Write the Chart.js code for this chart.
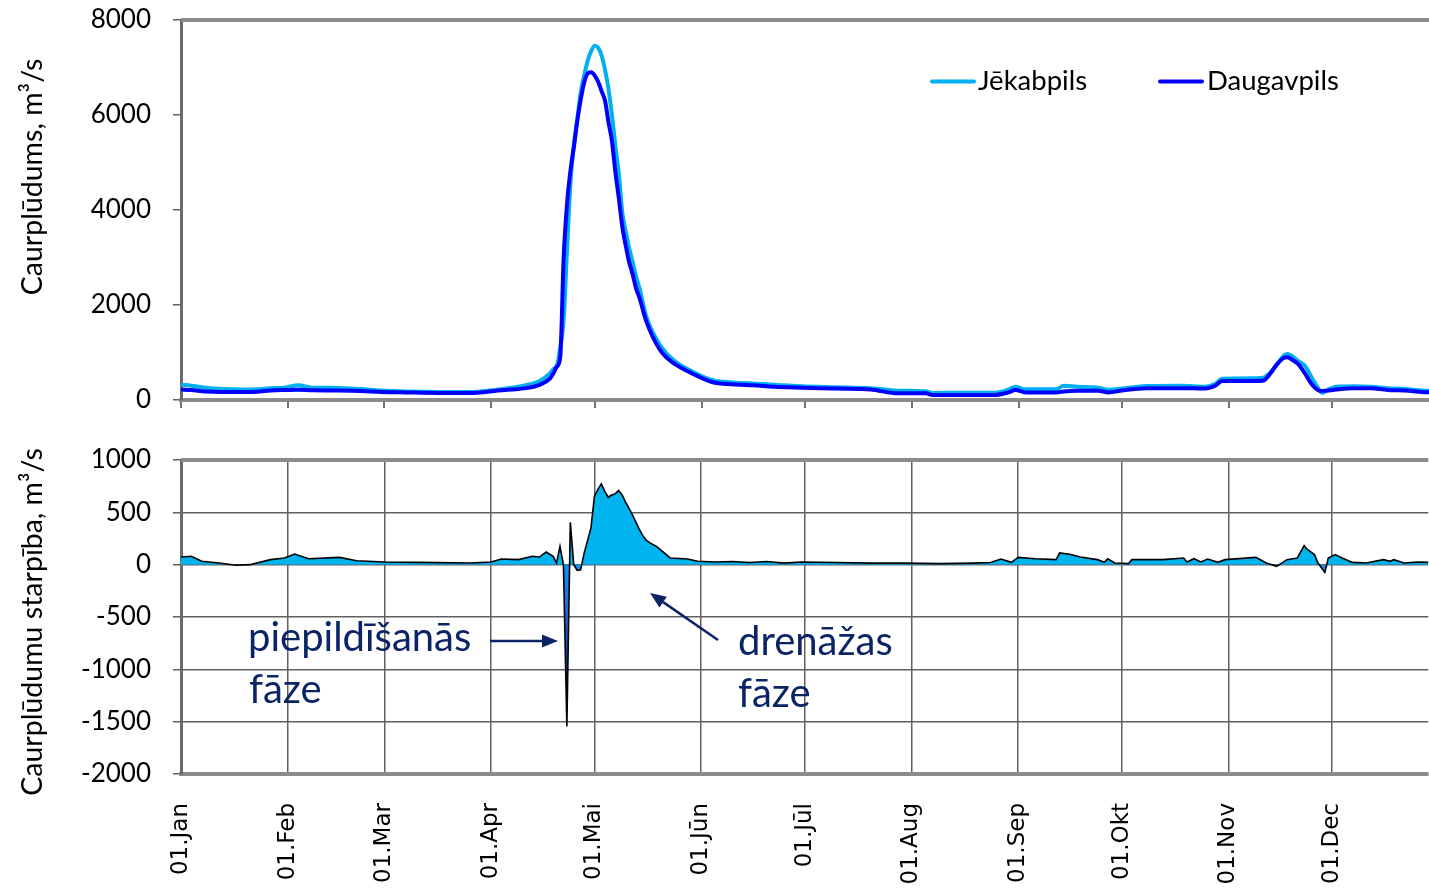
<!DOCTYPE html>
<html>
<head>
<meta charset="utf-8">
<script src="https://cdn.jsdelivr.net/npm/chart.js@4.4.1/dist/chart.umd.min.js"></script>
<style>
    body { margin: 0; background: #fff; width: 1429px; height: 890px; overflow: hidden; position: relative; }
    #flowChart { position: absolute; left: 0; top: 0; }
    #diffChart { position: absolute; left: 0; top: 430px; }
</style>
</head>
<body>
<canvas id="flowChart" width="1429" height="430"></canvas>
<canvas id="diffChart" width="1429" height="460"></canvas>
<script>
// day of year (0 = 1 Jan) for the discharge series
const flowDays = [
    0, 3, 7, 12, 18, 22, 26, 30, 34, 38,
    45, 52, 58, 65, 75, 85, 91, 96, 100, 104,
    107, 108, 109, 110, 111, 112, 113, 114, 115, 116,
    117, 118, 119, 120, 121, 122, 123, 124, 125, 126,
    127, 128, 129, 130, 131, 132, 133, 135, 139, 143,
    148, 154, 160, 166, 172, 180, 190, 200, 208, 216,
    218, 236, 240, 242, 245, 254, 256, 260, 266, 269,
    273, 280, 290, 297, 300, 302, 312, 314, 316, 318,
    320, 321, 322, 324, 326, 328, 330, 331, 333, 335,
    340, 345, 350, 355, 360, 364
];
const jekabpils = [
    320, 300, 260, 230, 220, 225, 250, 260, 310, 260,
    255, 230, 200, 180, 170, 170, 210, 260, 310, 400,
    560, 650, 720, 1100, 1700, 3200, 4600, 5400, 5950, 6500,
    6850, 7150, 7350, 7460, 7420, 7250, 6950, 6550, 6000, 5350,
    4750, 3950, 3550, 3200, 2900, 2600, 2350, 1750, 1150, 830,
    610, 420, 370, 350, 320, 290, 270, 250, 195, 185,
    150, 155, 220, 280, 225, 225, 300, 280, 260, 215,
    240, 295, 300, 280, 340, 450, 460, 470, 580, 760,
    940, 970, 940, 820, 720, 470, 230, 150, 230, 280,
    290, 280, 250, 230, 200, 190
];
const daugavpils = [
    220, 210, 180, 170, 170, 175, 200, 210, 215, 205,
    200, 190, 170, 160, 150, 150, 190, 220, 250, 320,
    450, 560, 700, 900, 3000, 4150, 4850, 5350, 5900, 6350,
    6700, 6880, 6900, 6830, 6700, 6500, 6300, 5850, 5450, 4800,
    4250, 3650, 3250, 2900, 2650, 2350, 2150, 1650, 1050, 770,
    570, 380, 330, 310, 280, 260, 240, 220, 140, 140,
    105, 105, 160, 210, 160, 160, 180, 195, 195, 160,
    200, 245, 250, 240, 300, 400, 400, 410, 560, 760,
    890, 900, 860, 760, 560, 330, 200, 190, 200, 220,
    250, 250, 210, 200, 170, 160
];

// difference series (lower panel)
const diffDays = [
    0, 3, 6, 11, 16, 20, 26, 30, 33, 37,
    46, 51, 59, 69, 84, 90, 93, 98, 102, 104,
    106, 108, 109, 110, 111, 112, 113, 114, 115, 116,
    117, 118, 119, 120, 121, 122, 123, 124, 125, 126,
    127, 128, 129, 130, 131, 132, 133, 134, 135, 136,
    138, 140, 142, 147, 150, 155, 160, 165, 170, 175,
    180, 190, 200, 210, 220, 230, 235, 238, 241, 243,
    248, 254, 255, 258, 261, 266, 268, 269, 271, 275,
    276, 285, 291, 292, 294, 296, 298, 301, 303, 308,
    312, 315, 318, 321, 324, 326, 327, 329, 330, 332,
    333, 335, 337, 340, 344, 349, 351, 352, 355, 359,
    364
];
const flowDiff = [
    73, 80, 32, 16, -6, 0, 48, 64, 102, 57,
    70, 38, 26, 22, 16, 26, 54, 48, 80, 73,
    121, 80, 16, 175, 0, -1545, 404, 0, -54, -50,
    110, 230, 354, 653, 720, 771, 700, 644, 665, 676,
    710, 669, 600, 540, 478, 410, 340, 280, 235, 210,
    175, 120, 64, 54, 32, 25, 30, 20, 30, 15,
    25, 20, 15, 15, 10, 15, 20, 54, 22, 70,
    57, 48, 112, 100, 73, 48, 22, 57, 16, 10,
    48, 48, 64, 26, 57, 26, 54, 22, 48, 60,
    70, 16, -16, 48, 64, 182, 143, 96, 16, -73,
    64, 96, 64, 22, 16, 48, 32, 48, 16, 26,
    20
];

const monthDays = [0, 31, 59, 90, 120, 151, 181, 212, 243, 273, 304, 334];
const monthLabels = ['01.Jan', '01.Feb', '01.Mar', '01.Apr', '01.Mai', '01.Jūn',
                     '01.Jūl', '01.Aug', '01.Sep', '01.Okt', '01.Nov', '01.Dec'];
const flowTicks = [0, 2000, 4000, 6000, 8000];
const diffTicks = [-2000, -1500, -1000, -500, 0, 500, 1000];

const DAY_MAX = 362;
const TICK_FONT = { family: 'Lato', size: 26 };
const NAVY = '#0b2466';

function monthTicks(scale) {
    scale.ticks = monthDays.map(v => ({ value: v }));
}

// fixed width for the value axis, and no extra margin from its labels
function fitValueAxis(scale) {
    scale.width = 181;
    scale.paddingTop = 0;
    scale.paddingBottom = 0;
}

function topBorder(chart) {
    const { ctx, chartArea: a } = chart;
    ctx.save();
    ctx.strokeStyle = '#8c8c8c';
    ctx.lineWidth = 4;
    ctx.beginPath();
    ctx.moveTo(a.left, a.top);
    ctx.lineTo(a.right, a.top);
    ctx.stroke();
    ctx.restore();
}

function yTitle(ctx, text, x, yc) {
    ctx.save();
    ctx.translate(x, yc);
    ctx.rotate(-Math.PI / 2);
    ctx.font = '28.5px Lato';
    ctx.fillStyle = '#000';
    ctx.textAlign = 'center';
    ctx.textBaseline = 'alphabetic';
    ctx.fillText(text, 0, 0);
    ctx.restore();
}

function arrow(ctx, x1, y1, x2, y2) {
    const ang = Math.atan2(y2 - y1, x2 - x1);
    const L = 16, W = 6.5;
    const bx = x2 - L * Math.cos(ang), by = y2 - L * Math.sin(ang);
    ctx.save();
    ctx.strokeStyle = NAVY;
    ctx.fillStyle = NAVY;
    ctx.lineWidth = 2.5;
    ctx.beginPath();
    ctx.moveTo(x1, y1);
    ctx.lineTo(bx, by);
    ctx.stroke();
    ctx.beginPath();
    ctx.moveTo(x2, y2);
    ctx.lineTo(bx + W * Math.sin(ang), by - W * Math.cos(ang));
    ctx.lineTo(bx - W * Math.sin(ang), by + W * Math.cos(ang));
    ctx.closePath();
    ctx.fill();
    ctx.restore();
}

const flowDecor = {
    id: 'flowDecor',
    afterDraw(chart) {
        const ctx = chart.ctx;
        topBorder(chart);
        yTitle(ctx, 'Caurplūdums, m³/s', 42, 177);

        // legend
        ctx.save();
        ctx.lineCap = 'round';
        ctx.lineWidth = 4;
        ctx.strokeStyle = '#00b0f0';
        ctx.beginPath(); ctx.moveTo(932, 81.5); ctx.lineTo(974, 81.5); ctx.stroke();
        ctx.strokeStyle = '#0000ff';
        ctx.beginPath(); ctx.moveTo(1160, 81.5); ctx.lineTo(1202, 81.5); ctx.stroke();
        ctx.font = '27.5px Lato';
        ctx.fillStyle = '#000';
        ctx.textBaseline = 'alphabetic';
        ctx.fillText('Jēkabpils', 978, 90);
        ctx.fillText('Daugavpils', 1207, 90);
        ctx.restore();
    }
};

const diffDecor = {
    id: 'diffDecor',
    afterDraw(chart) {
        const ctx = chart.ctx;
        topBorder(chart);
        yTitle(ctx, 'Caurplūdumu starpība, m³/s', 42, 192);

        ctx.save();
        ctx.font = '40px Lato';
        ctx.fillStyle = NAVY;
        ctx.textBaseline = 'alphabetic';
        ctx.fillText('piepildīšanās', 248, 221);
        ctx.fillText('fāze', 249, 273);
        ctx.fillText('drenāžas', 738, 225);
        ctx.fillText('fāze', 738, 277);
        ctx.restore();

        arrow(ctx, 490, 211, 558, 211);
        arrow(ctx, 718, 210, 650, 163);
    }
};

function initializeCharts() {
    const flowCtx = document.getElementById('flowChart').getContext('2d');
    const diffCtx = document.getElementById('diffChart').getContext('2d');

    new Chart(flowCtx, {
        type: 'line',
        data: {
            datasets: [{
                label: 'Jēkabpils',
                data: flowDays.map((d, i) => ({ x: d, y: jekabpils[i] })),
                borderColor: '#00b0f0',
                borderWidth: 4,
                pointRadius: 0,
                cubicInterpolationMode: 'monotone',
                order: 1
            }, {
                label: 'Daugavpils',
                data: flowDays.map((d, i) => ({ x: d, y: daugavpils[i] })),
                borderColor: '#0000ff',
                borderWidth: 4,
                pointRadius: 0,
                cubicInterpolationMode: 'monotone',
                order: 0
            }]
        },
        options: {
            responsive: false,
            animation: false,
            devicePixelRatio: 1,
            events: [],
            layout: { padding: { top: 20, right: 0, left: 0, bottom: 0 } },
            plugins: { legend: { display: false }, tooltip: { enabled: false } },
            scales: {
                x: {
                    type: 'linear',
                    min: 0,
                    max: DAY_MAX,
                    afterBuildTicks: monthTicks,
                    afterFit: s => { s.height = 30; },
                    ticks: { display: false },
                    grid: { drawOnChartArea: false, color: '#707070', lineWidth: 2, tickLength: 8 },
                    border: { color: '#8c8c8c', width: 4 }
                },
                y: {
                    min: 0,
                    max: 8000,
                    afterBuildTicks: s => { s.ticks = flowTicks.map(v => ({ value: v })); },
                    afterFit: fitValueAxis,
                    ticks: { color: '#000', font: TICK_FONT, padding: 22, callback: v => String(v) },
                    grid: { drawOnChartArea: false, color: '#606060', lineWidth: 1.5, tickLength: 8 },
                    border: { color: '#6a6a6a', width: 3 }
                }
            }
        },
        plugins: [flowDecor]
    });

    const diffChart = new Chart(diffCtx, {
        type: 'line',
        data: {
            datasets: [{
                label: 'starpība',
                data: diffDays.map((d, i) => ({ x: d, y: flowDiff[i] })),
                borderColor: '#000',
                borderWidth: 1.6,
                pointRadius: 0,
                tension: 0,
                fill: { target: { value: 0 }, above: '#00b4f0', below: '#1a7ee8' }
            }]
        },
        options: {
            responsive: false,
            animation: false,
            devicePixelRatio: 1,
            events: [],
            layout: { padding: { top: 30, right: 0, left: 0, bottom: 0 } },
            plugins: { legend: { display: false }, tooltip: { enabled: false } },
            scales: {
                x: {
                    type: 'linear',
                    min: 0,
                    max: DAY_MAX,
                    afterBuildTicks: monthTicks,
                    afterFit: s => { s.height = 116; },
                    ticks: {
                        autoSkip: false,
                        minRotation: 90,
                        maxRotation: 90,
                        padding: 29,
                        color: '#000',
                        font: { family: 'DejaVu Sans', size: 23 },
                        callback: v => monthLabels[monthDays.indexOf(v)]
                    },
                    grid: { color: '#606060', lineWidth: 1.5, drawTicks: false },
                    border: { color: '#8c8c8c', width: 4 }
                },
                y: {
                    min: -2000,
                    max: 1000,
                    afterBuildTicks: s => { s.ticks = diffTicks.map(v => ({ value: v })); },
                    afterFit: fitValueAxis,
                    ticks: { color: '#000', font: TICK_FONT, padding: 22, callback: v => String(v) },
                    grid: { color: '#606060', lineWidth: 1.5, tickLength: 8 },
                    border: { color: '#6a6a6a', width: 3 }
                }
            }
        },
        plugins: [diffDecor]
    });

    // darker blue towards the bottom of the negative spike
    const y = diffChart.scales.y;
    const grad = diffCtx.createLinearGradient(0, y.getPixelForValue(0), 0, y.getPixelForValue(-1550));
    grad.addColorStop(0, '#1c8cf5');
    grad.addColorStop(0.6, '#1048b8');
    grad.addColorStop(1, '#0a1030');
    diffChart.data.datasets[0].fill.below = grad;
    diffChart.update('none');
}

window.onload = initializeCharts;
</script>
</body>
</html>
